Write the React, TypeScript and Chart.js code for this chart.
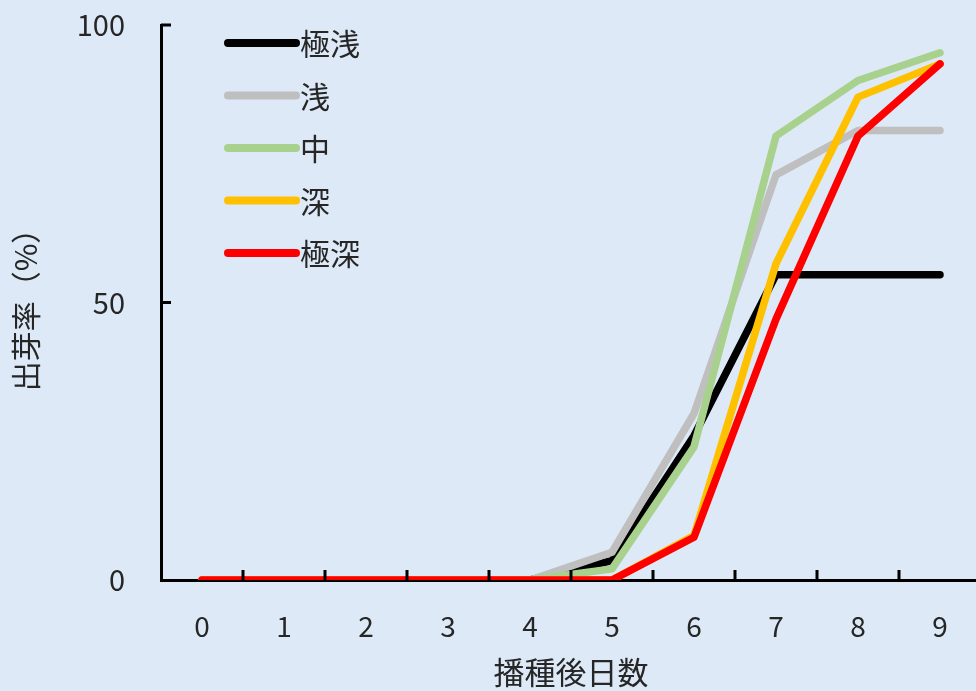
import React, { useEffect, useRef } from "react";
import { Chart, registerables } from "chart.js";

Chart.register(...registerables);

const days = ["0", "1", "2", "3", "4", "5", "6", "7", "8", "9"];
const seriesNames = ["極浅", "浅", "中", "深", "極深"];
const seriesColors = ["#000000", "#bfbfbf", "#a9d18e", "#ffc000", "#ff0000"];

const veryShallow = [0, 0, 0, 0, 0, 3.5, 26, 55, 55, 55];
const shallow = [0, 0, 0, 0, 0, 5, 30, 73, 81, 81];
const middle = [0, 0, 0, 0, 0, 2, 24, 80, 90, 95];
const deep = [0, 0, 0, 0, 0, 0, 8, 57, 87, 93];
const veryDeep = [0, 0, 0, 0, 0, 0, 7.7, 47, 80, 93];

const seriesValues = [veryShallow, shallow, middle, deep, veryDeep];
const yTicks = [0, 50, 100];

const FONT = "'Noto Sans CJK JP', 'Noto Sans', sans-serif";
const TEXT = "#262626";

// short tick marks pointing into the plot area
const innerTicks = {
  id: "innerTicks",
  afterDatasetsDraw(chart: any) {
    const { ctx } = chart;
    const x = chart.scales.x;
    const y = chart.scales.y;
    ctx.save();
    ctx.strokeStyle = "#000";
    ctx.lineWidth = 3;
    ctx.beginPath();
    for (let i = 0; i < days.length - 1; i++) {
      const px = (x.getPixelForValue(i) + x.getPixelForValue(i + 1)) / 2;
      ctx.moveTo(px, y.bottom);
      ctx.lineTo(px, y.bottom - 10);
    }
    for (const v of yTicks) {
      if (v === 0) continue;
      const py = y.getPixelForValue(v);
      ctx.moveTo(x.left, py);
      ctx.lineTo(x.left + 10, py);
    }
    ctx.stroke();
    ctx.restore();
  },
};

// legend drawn inside the plot area, one row per series
const insideLegend = {
  id: "insideLegend",
  afterDraw(chart: any) {
    const { ctx } = chart;
    ctx.save();
    ctx.font = `30px ${FONT}`;
    ctx.textBaseline = "middle";
    ctx.textAlign = "left";
    chart.data.datasets.forEach((ds: any, i: number) => {
      const cy = 43 + i * 52.5;
      ctx.strokeStyle = ds.borderColor;
      ctx.lineWidth = 8;
      ctx.lineCap = "round";
      ctx.beginPath();
      ctx.moveTo(228, cy);
      ctx.lineTo(296, cy);
      ctx.stroke();
      ctx.fillStyle = TEXT;
      ctx.fillText(ds.label, 300, cy + 1);
    });
    ctx.restore();
  },
};

export default function App() {
  const ref = useRef<HTMLCanvasElement | null>(null);

  useEffect(() => {
    document.body.style.margin = "0";
    const chart = new Chart(ref.current as HTMLCanvasElement, {
      type: "line",
      data: {
        labels: days,
        datasets: seriesValues.map((vals, i) => ({
          label: seriesNames[i],
          data: vals,
          borderColor: seriesColors[i],
          backgroundColor: seriesColors[i],
          borderWidth: 7.5,
          pointRadius: 0,
          borderCapStyle: "round" as const,
          borderJoinStyle: "round" as const,
          tension: 0,
          order: seriesValues.length - i,
        })),
      },
      options: {
        responsive: false,
        animation: false,
        layout: { padding: { top: 25, right: 9, bottom: 0, left: 0 } },
        plugins: {
          legend: { display: false },
          tooltip: { enabled: false },
        },
        scales: {
          x: {
            offset: true,
            grid: { display: false, offset: true },
            border: { display: true, color: "#000", width: 3 },
            ticks: {
              color: TEXT,
              font: { family: FONT, size: 28 },
              padding: 22,
              maxRotation: 0,
            },
            title: {
              display: true,
              text: "播種後日数",
              color: TEXT,
              font: { family: FONT, size: 31 },
              padding: { top: 0, bottom: 0 },
            },
            afterFit(scale: any) {
              scale.height = 111;
            },
          },
          y: {
            min: 0,
            max: 100,
            afterBuildTicks(scale: any) {
              scale.ticks = yTicks.map((v) => ({ value: v }));
            },
            grid: { display: false },
            border: { display: true, color: "#000", width: 3 },
            ticks: {
              color: TEXT,
              font: { family: FONT, size: 29 },
              padding: 28,
            },
            title: {
              display: true,
              text: "出芽率（%）",
              color: TEXT,
              font: { family: FONT, size: 30 },
              padding: { top: 8, bottom: 0 },
            },
            afterFit(scale: any) {
              scale.width = 161;
              scale.paddingTop = 0;
              scale.paddingBottom = 0;
            },
          },
        },
      },
      plugins: [innerTicks, insideLegend],
    });
    return () => chart.destroy();
  }, []);

  return (
    <div
      style={{
        position: "fixed",
        left: 0,
        top: 0,
        width: 976,
        height: 691,
        overflow: "hidden",
        background: "#dde9f6",
      }}
    >
      <canvas ref={ref} width={990} height={691} style={{ display: "block" }} />
    </div>
  );
}
